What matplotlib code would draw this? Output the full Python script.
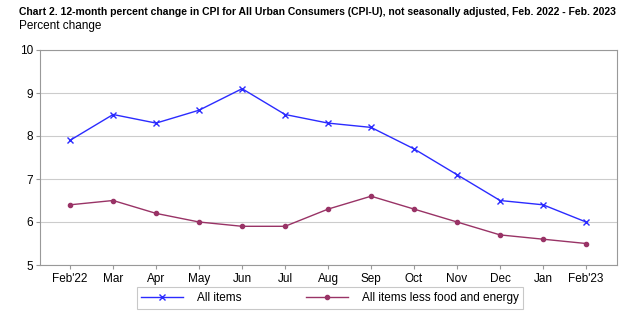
import matplotlib
matplotlib.use("Agg")
import matplotlib.pyplot as plt

months = ["Feb'22", "Mar", "Apr", "May", "Jun", "Jul", "Aug", "Sep", "Oct", "Nov", "Dec", "Jan", "Feb'23"]
all_items = [7.9, 8.5, 8.3, 8.6, 9.1, 8.5, 8.3, 8.2, 7.7, 7.1, 6.5, 6.4, 6.0]
core = [6.4, 6.5, 6.2, 6.0, 5.9, 5.9, 6.3, 6.6, 6.3, 6.0, 5.7, 5.6, 5.5]
yticks = [5, 6, 7, 8, 9, 10]

plt.rcParams['font.family'] = ['Liberation Sans', 'DejaVu Sans']
fig = plt.figure(figsize=(6.4, 3.22), dpi=100)
ax = fig.add_axes([40/640, 1-265/322, 577/640, 215/322])
x = list(range(len(months)))
ax.plot(x, all_items, color='#2b2bff', lw=1.0, marker='x', ms=5, mew=1.0, label='All items')
ax.plot(x, core, color='#993366', lw=1.0, marker='o', ms=3, label='All items less food and energy')
ax.set_xlim(-0.7, 12.72)
ax.set_ylim(5, 10)
ax.set_yticks(yticks)
ax.set_xticks(x)
ax.set_xticklabels(months, fontsize=8.5)
ax.tick_params(axis='y', labelsize=8.5, length=3, color='#999999', pad=2)
ax.tick_params(axis='x', length=3, color='#999999', pad=3)
ax.grid(axis='y', color='#cccccc', lw=0.8)
ax.set_axisbelow(True)
for s in ax.spines.values():
    s.set_color('#999999')
    s.set_linewidth(0.8)
fig.text(19/640, 1-12/322, "Chart 2. 12-month percent change in CPI for All Urban Consumers (CPI-U), not seasonally adjusted, Feb. 2022 - Feb. 2023",
         fontsize=7.5, fontweight='bold', va='center', ha='left')
fig.text(19/640, 1-26/322, "Percent change", fontsize=8.5, va='center', ha='left')
leg = fig.legend(loc='center', bbox_to_anchor=(330/640, 1-298/322), ncol=2, fontsize=8.5,
                 frameon=True, fancybox=False, edgecolor='#bbbbbb', handlelength=3.5,
                 columnspacing=5.5, borderpad=0.4, handletextpad=1.2)
leg.get_frame().set_linewidth(0.8)
fig.savefig("out.png", dpi=100)
